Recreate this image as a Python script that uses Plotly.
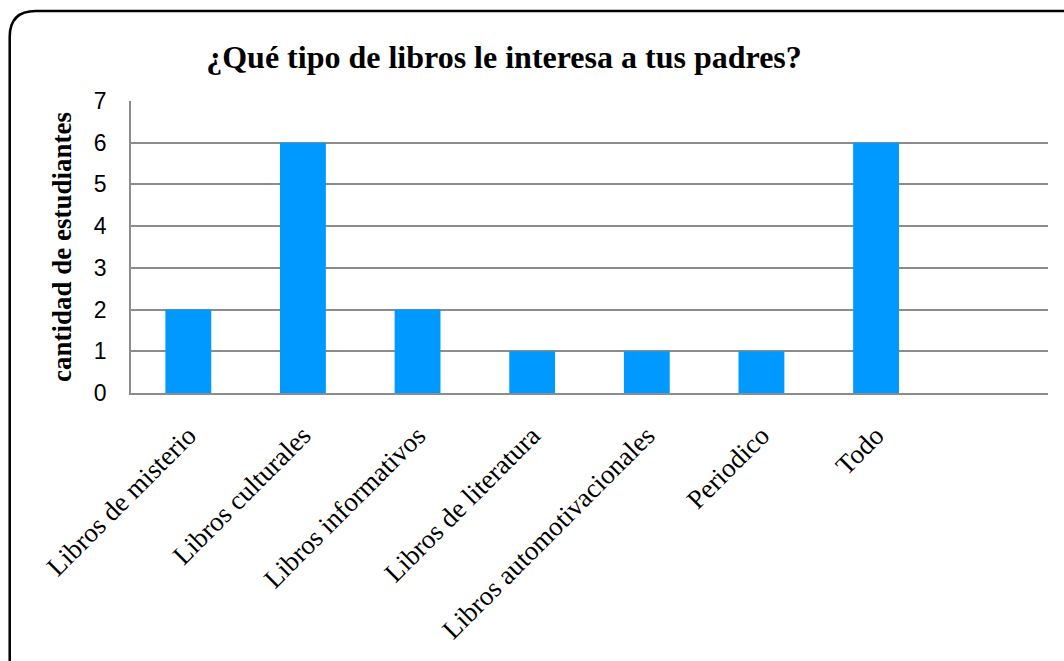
import plotly.graph_objects as go

# data
categorias = ["Libros de misterio", "Libros culturales", "Libros informativos",
              "Libros de literatura", "Libros automotivacionales", "Periodico", "Todo"]
estudiantes = [2, 6, 2, 1, 1, 1, 6]
y_ticks = [0, 1, 2, 3, 4, 5, 6, 7]

W, H = 1064, 661
L, R, T, B = 131, 1048, 101, 393  # plot area in pixels


def px_x(p):
    return (p - L) / (R - L)


def px_y(p):
    return (B - p) / (B - T)


fig = go.Figure()

fig.add_trace(go.Bar(
    x=list(range(len(categorias))),
    y=estudiantes,
    marker=dict(color="#0099FF", line=dict(width=0)),
    width=0.4,
    hoverinfo="y",
))

# outer rounded frame (only top-left corner visible)
r = 26
x0, y0 = 9.7, 11
frame = (f"M {px_x(x0)},{px_y(H + 20)} L {px_x(x0)},{px_y(y0 + r)} "
         f"Q {px_x(x0)},{px_y(y0)} {px_x(x0 + r)},{px_y(y0)} "
         f"L {px_x(W + 20)},{px_y(y0)}")

fig.update_layout(
    width=W, height=H,
    margin=dict(l=L, r=W - R, t=T, b=H - B),
    paper_bgcolor="white",
    plot_bgcolor="white",
    showlegend=False,
    title=dict(
        text="<b>¿Qué tipo de libros le interesa a tus padres?</b>",
        font=dict(family="Liberation Serif", size=32, color="black"),
        x=504 / W, xref="container", xanchor="center",
        y=1 - 57 / H, yref="container", yanchor="middle",
    ),
    xaxis=dict(
        range=[-0.5, 7.5],
        tickmode="array",
        tickvals=list(range(len(categorias))),
        ticktext=categorias,
        tickangle=-45,
        tickfont=dict(family="Liberation Serif", size=27, color="black"),
        showgrid=False,
        zeroline=False,
        showline=True, linecolor="#8C8C8C", linewidth=2,
        ticks="",
        ticklabelstandoff=14,
    ),
    yaxis=dict(
        range=[0, 7],
        tickmode="array",
        tickvals=y_ticks,
        tickfont=dict(family="Liberation Sans", size=23, color="black"),
        showgrid=True, gridcolor="#8C8C8C", gridwidth=1.5,
        zeroline=False,
        showline=True, linecolor="#8C8C8C", linewidth=1.5,
        ticks="",
        ticklabelstandoff=18,
    ),
    annotations=[dict(
        text="<b>cantidad de estudiantes</b>",
        xref="paper", yref="paper",
        x=px_x(62), y=px_y(247),
        showarrow=False, textangle=-90,
        xanchor="center", yanchor="middle",
        font=dict(family="Liberation Serif", size=27, color="black"),
    )],
    shapes=[dict(
        type="path", path=frame, xref="paper", yref="paper",
        line=dict(color="black", width=2.5), layer="above",
    )],
)

fig.write_html("out.html", config={"displayModeBar": False},
               post_script="document.body.style.margin='0';")
